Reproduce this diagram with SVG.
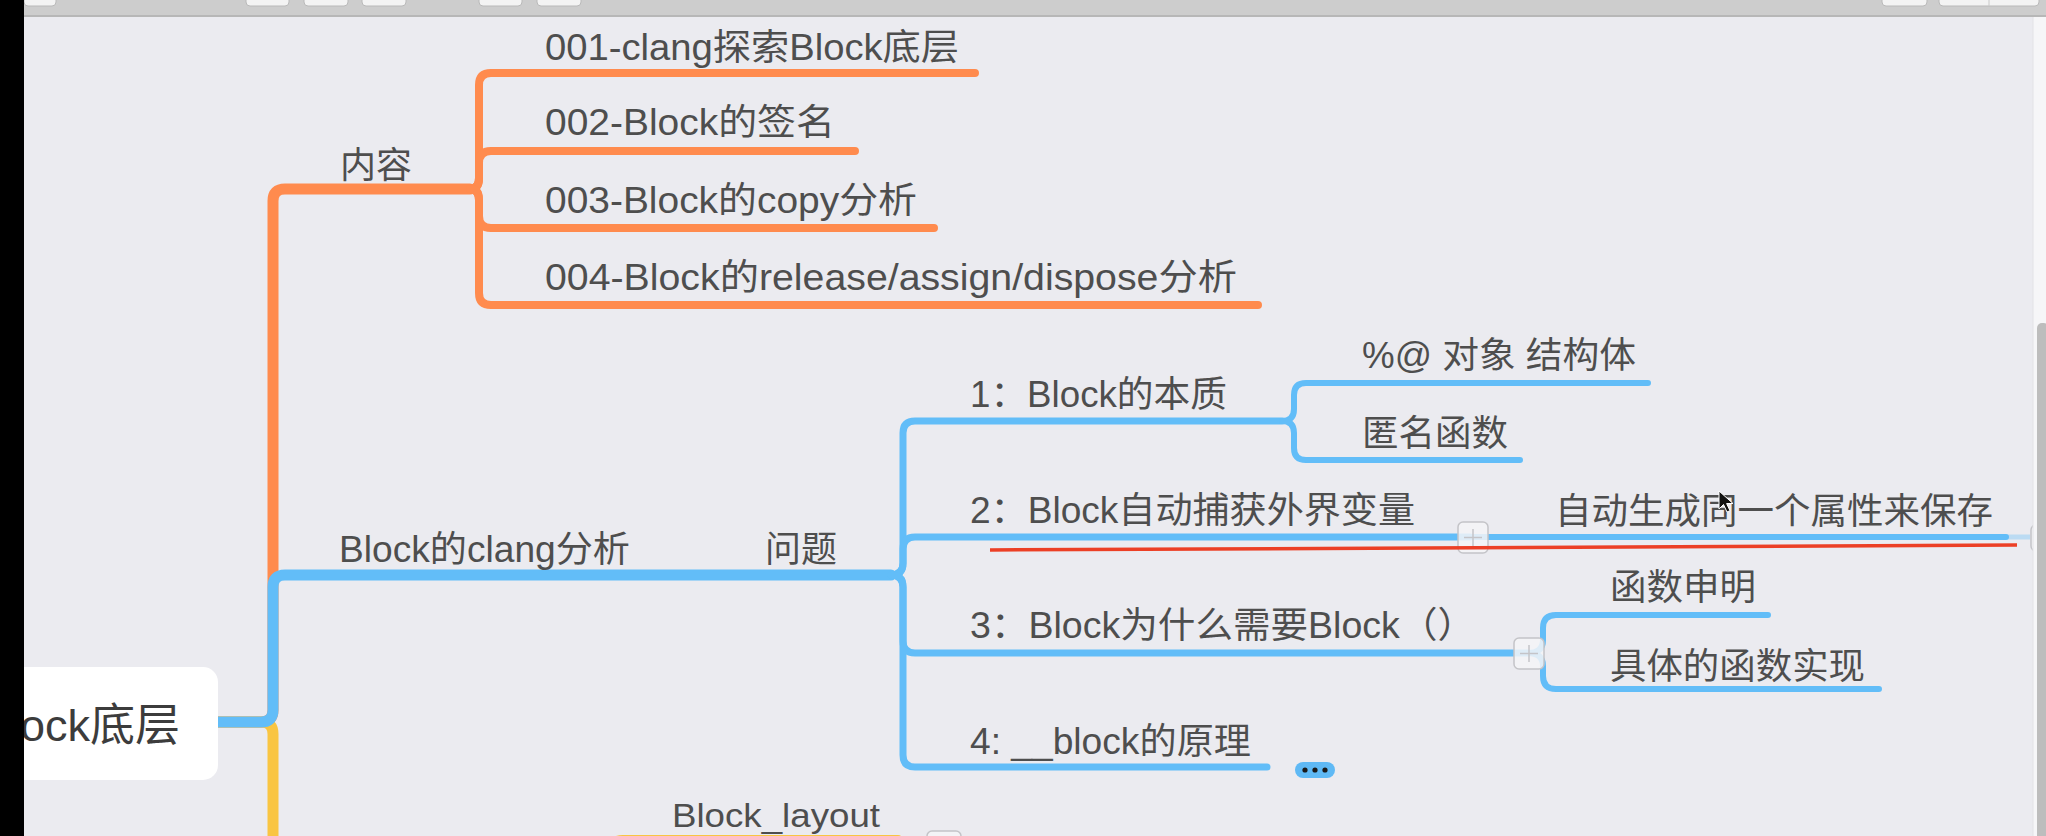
<svg xmlns="http://www.w3.org/2000/svg" width="2046" height="836" viewBox="0 0 2046 836">
<style>
.t{font-family:"Liberation Sans","Noto Sans CJK SC",sans-serif;font-size:36px;fill:#4e4e4e}
.rt{font-family:"Liberation Sans","Noto Sans CJK SC",sans-serif;font-size:45px;fill:#3c3c3c}
.sm{font-size:34px}
.or{fill:none;stroke:#FF8B4E;stroke-linecap:round;stroke-linejoin:round}
.bl{fill:none;stroke:#62BDF8;stroke-linecap:round;stroke-linejoin:round}
.ye{fill:none;stroke:#F9C542;stroke-linecap:round;stroke-linejoin:round}
.tb{fill:#f3f3f3;stroke:#b9b9b9;stroke-width:1}
.pl{fill:#f4f4f7;fill-opacity:0.85;stroke:#c4c4c8;stroke-width:1.5}
.ps{stroke:#c4c4c8;stroke-width:1.5}
</style>
<rect x="0" y="0" width="2046" height="836" fill="#ebebf0"/>
<!-- toolbar -->
<g id="toolbar">
<rect x="0" y="0" width="2046" height="16" fill="#cdcdcd"/>
<rect x="0" y="15" width="2046" height="2" fill="#b7b7b7"/>
<rect class="tb" x="24" y="-10" width="32" height="16" rx="4"/>
<rect class="tb" x="246" y="-10" width="43" height="16" rx="4"/>
<rect class="tb" x="304" y="-10" width="44" height="16" rx="4"/>
<rect class="tb" x="362" y="-10" width="44" height="16" rx="4"/>
<rect class="tb" x="479" y="-10" width="43" height="16" rx="4"/>
<rect class="tb" x="537" y="-10" width="44" height="16" rx="4"/>
<rect class="tb" x="1882" y="-10" width="45" height="16" rx="4"/>
<rect class="tb" x="1939" y="-10" width="100" height="16" rx="4"/>
<line x1="1989" y1="-10" x2="1989" y2="6" stroke="#c9c9c9"/>
</g>
<!-- connectors -->
<g id="connectors">
<path class="or" stroke-width="11" d="M218 722 H261 Q273 722 273 710 V201 Q273 189 285 189 H470"/>
<path class="or" stroke-width="8" d="M470 189 Q479 189 479 178 V85 Q479 73 491 73 H975"/>
<path class="or" stroke-width="8" d="M470 189 Q479 189 479 178 V163 Q479 151 491 151 H855"/>
<path class="or" stroke-width="8" d="M470 189 Q479 189 479 200 V216 Q479 228 491 228 H934"/>
<path class="or" stroke-width="8" d="M470 189 Q479 189 479 200 V293 Q479 305 491 305 H1258"/>
<path class="ye" stroke-width="11" d="M218 722 H261 Q273 722 273 734 V900"/>
<path class="ye" stroke-width="8" d="M898 839 H623 Q611 839 611 851 V900"/>
<path class="bl" stroke-width="11" d="M218 722 H261 Q273 722 273 710 V587 Q273 575 285 575 H891"/>
<path class="bl" stroke-width="7" d="M891 575 Q903 575 903 563 V433 Q903 421 915 421 H1282"/>
<path class="bl" stroke-width="7" d="M891 575 Q903 575 903 563 V549 Q903 537 915 537 H1470"/>
<path class="bl" stroke-width="7" d="M891 575 Q903 575 903 587 V641 Q903 653 915 653 H1528"/>
<path class="bl" stroke-width="7" d="M891 575 Q903 575 903 587 V755 Q903 767 915 767 H1267"/>
<path class="bl" stroke-width="6" d="M1282 421 Q1294 421 1294 409 V395 Q1294 383 1306 383 H1648"/>
<path class="bl" stroke-width="6" d="M1282 421 Q1294 421 1294 433 V448 Q1294 460 1306 460 H1520"/>
<path class="bl" stroke-width="6" d="M1470 537 H2006"/>
<path fill="none" stroke="#62BDF8" stroke-opacity="0.35" stroke-width="5" d="M2006 537 H2030"/>
<path class="bl" stroke-width="6" d="M1528 653 Q1543 653 1543 640 V628 Q1543 615 1556 615 H1768"/>
<path class="bl" stroke-width="6" d="M1528 653 Q1543 653 1543 666 V676 Q1543 689 1556 689 H1879"/>
</g>
<!-- collapse / expand buttons -->
<g id="btn-2">
<rect class="pl" x="1458" y="522" width="30" height="31" rx="5"/>
<line class="ps" x1="1473" y1="529" x2="1473" y2="546"/>
<line class="ps" x1="1464" y1="537.5" x2="1482" y2="537.5"/>
</g>
<g id="btn-3">
<rect class="pl" x="1514" y="638" width="30" height="31" rx="5"/>
<line class="ps" x1="1529" y1="645" x2="1529" y2="662"/>
<line class="ps" x1="1520" y1="653.5" x2="1538" y2="653.5"/>
</g>
<g id="btn-right">
<rect class="pl" x="2031" y="525" width="20" height="26" rx="5"/>
</g>
<g id="btn-layout">
<rect class="pl" x="927" y="831" width="34" height="30" rx="5"/>
</g>
<g id="more-4">
<rect x="1295" y="762" width="40" height="16" rx="8" fill="#5fb9f5"/>
<circle cx="1305" cy="770" r="2.6" fill="#1a1a1a"/>
<circle cx="1315" cy="770" r="2.6" fill="#1a1a1a"/>
<circle cx="1325" cy="770" r="2.6" fill="#1a1a1a"/>
</g>
<!-- nodes -->
<g id="root">
<rect x="-30" y="667" width="248" height="113" rx="15" fill="#ffffff"/>
<text class="rt" x="180" y="741" text-anchor="end">Block底层</text>
</g>
<g id="n-neirong"><text class="t" x="340" y="178" textLength="72" lengthAdjust="spacingAndGlyphs">内容</text></g>
<g id="n-001"><text class="t" x="545" y="60" textLength="414" lengthAdjust="spacingAndGlyphs">001-clang探索Block底层</text></g>
<g id="n-002"><text class="t" x="545" y="135" textLength="290" lengthAdjust="spacingAndGlyphs">002-Block的签名</text></g>
<g id="n-003"><text class="t" x="545" y="213" textLength="372" lengthAdjust="spacingAndGlyphs">003-Block的copy分析</text></g>
<g id="n-004"><text class="t" x="545" y="290" textLength="692" lengthAdjust="spacingAndGlyphs">004-Block的release/assign/dispose分析</text></g>
<g id="n-clang"><text class="t" x="339" y="562" textLength="291" lengthAdjust="spacingAndGlyphs">Block的clang分析</text></g>
<g id="n-wenti"><text class="t" x="765" y="562" textLength="72" lengthAdjust="spacingAndGlyphs">问题</text></g>
<g id="n-q1"><text class="t" x="970" y="407" textLength="257" lengthAdjust="spacingAndGlyphs">1：Block的本质</text></g>
<g id="n-q1a"><text class="t" x="1362" y="368" textLength="274" lengthAdjust="spacingAndGlyphs">%@ 对象 结构体</text></g>
<g id="n-q1b"><text class="t" x="1362" y="446" textLength="146" lengthAdjust="spacingAndGlyphs">匿名函数</text></g>
<g id="n-q2"><text class="t" x="970" y="523" textLength="445" lengthAdjust="spacingAndGlyphs">2：Block自动捕获外界变量</text></g>
<g id="n-q2a"><text class="t" x="1555" y="524" textLength="438" lengthAdjust="spacingAndGlyphs">自动生成同一个属性来保存</text></g>
<g id="n-q3"><text class="t" x="970" y="638" textLength="505" lengthAdjust="spacingAndGlyphs">3：Block为什么需要Block（）</text></g>
<g id="n-q3a"><text class="t" x="1610" y="600" textLength="146" lengthAdjust="spacingAndGlyphs">函数申明</text></g>
<g id="n-q3b"><text class="t" x="1610" y="679" textLength="255" lengthAdjust="spacingAndGlyphs">具体的函数实现</text></g>
<g id="n-q4"><text class="t" x="970" y="754" textLength="281" lengthAdjust="spacingAndGlyphs">4: __block的原理</text></g>
<g id="n-layout"><text class="t sm" x="672" y="827" textLength="208" lengthAdjust="spacingAndGlyphs">Block_layout</text></g>
<!-- annotation -->
<line x1="990" y1="550" x2="2017" y2="545" stroke="#ec3f25" stroke-width="3.5"/>
<!-- scrollbar -->
<rect x="2033" y="17" width="13" height="819" fill="#f6f6f8"/>
<line x1="2033" y1="17" x2="2033" y2="836" stroke="#e2e2e6" stroke-width="1"/>
<rect x="2037" y="323" width="12" height="560" rx="5" fill="#bdbdbd"/>
<!-- cursor -->
<path d="M1719 491 V509 L1723.5 504.5 L1727 512 L1730 510.7 L1726.6 503.5 L1733 503.5 Z" fill="#111" stroke="#fff" stroke-width="1"/>
<!-- left black bar -->
<rect x="0" y="0" width="24" height="836" fill="#000"/>
</svg>
